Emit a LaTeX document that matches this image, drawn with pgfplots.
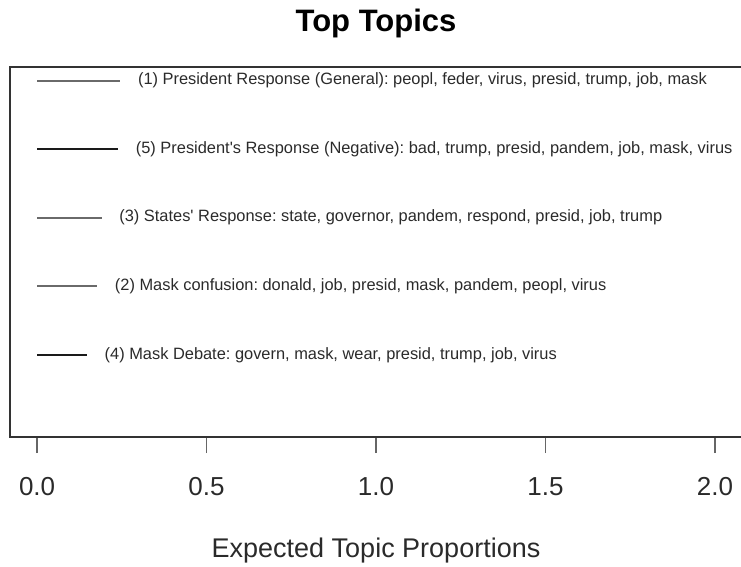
\documentclass[border=0pt]{standalone}
\usepackage{pgfplots}
\pgfplotsset{compat=1.18}
\usepackage{fontspec}
\setmainfont{Liberation Sans}
\definecolor{lgray}{HTML}{6A6A6A}
\definecolor{ldark}{HTML}{1A1A1A}
\definecolor{txt}{HTML}{2A2A2A}
\newcommand{\sq}{\XeTeXglyph\XeTeXglyphindex "quotesingle"\relax}
\begin{document}
\frenchspacing
\begin{tikzpicture}[x=1pt,y=1pt]
\useasboundingbox (0,0) rectangle (741,566);
\begin{axis}[
  at={(10pt,129pt)}, anchor=south west,
  scale only axis, width=732pt, height=370pt,
  xmin=-0.08, xmax=2.08, ymin=-0.2, ymax=5.2,
  xtick={0,0.5,1,1.5,2}, ytick=\empty,
  xtick pos=bottom, tick align=outside,
  major tick length=16pt,
  x tick style={color=black!60, line width=1.5pt},
  xticklabels={0.0,0.5,1.0,1.5,2.0},
  xticklabel style={font=\fontsize{26}{26}\selectfont, text=txt, anchor=base, yshift=-42pt},
  axis line style={color=black!80, line width=1.6pt},
  clip=false,
]
\addplot[lgray, line width=1.8pt] coordinates {(0,5) (0.245,5)}
  node[pos=1, anchor=west, inner sep=0pt, xshift=17pt, text=txt, font=\fontsize{16.4}{16.4}\selectfont]
  {(1) President Response (General): peopl, feder, virus, presid, trump, job, mask};
\addplot[ldark, line width=1.6pt] coordinates {(0,4) (0.239,4)}
  node[pos=1, anchor=west, inner sep=0pt, xshift=17pt, text=txt, font=\fontsize{16.4}{16.4}\selectfont]
  {(5) President\sq s Response (Negative): bad, trump, presid, pandem, job, mask, virus};
\addplot[lgray, line width=1.8pt] coordinates {(0,3) (0.19,3)}
  node[pos=1, anchor=west, inner sep=0pt, xshift=17pt, text=txt, font=\fontsize{16.4}{16.4}\selectfont]
  {(3) States\sq{} Response: state, governor, pandem, respond, presid, job, trump};
\addplot[lgray, line width=1.8pt] coordinates {(0,2) (0.177,2)}
  node[pos=1, anchor=west, inner sep=0pt, xshift=17pt, text=txt, font=\fontsize{16.4}{16.4}\selectfont]
  {(2) Mask confusion: donald, job, presid, mask, pandem, peopl, virus};
\addplot[ldark, line width=1.6pt] coordinates {(0,1) (0.147,1)}
  node[pos=1, anchor=west, inner sep=0pt, xshift=17pt, text=txt, font=\fontsize{16.4}{16.4}\selectfont]
  {(4) Mask Debate: govern, mask, wear, presid, trump, job, virus};
\end{axis}
\node[anchor=base, font=\fontsize{31}{31}\selectfont\bfseries] at (376,534) {Top Topics};
\node[anchor=base, text=txt, font=\fontsize{27}{27}\selectfont] at (376,9) {Expected Topic Proportions};
\end{tikzpicture}
\end{document}
